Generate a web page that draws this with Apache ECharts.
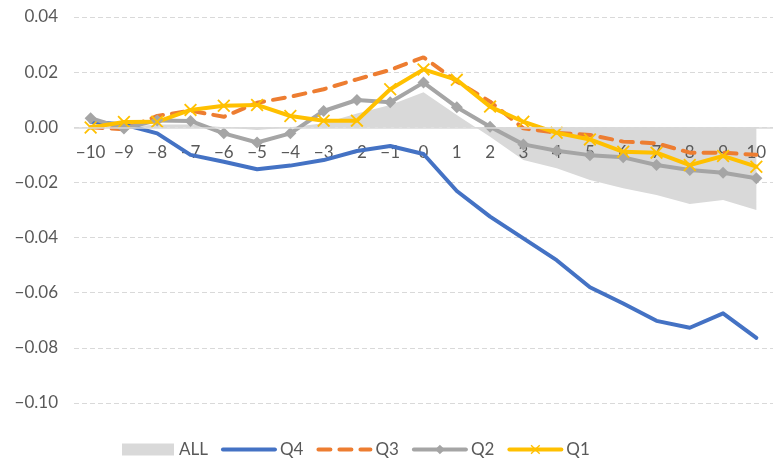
<!DOCTYPE html>
<html>
<head>
<meta charset="utf-8">
<script src="https://cdn.jsdelivr.net/npm/echarts@6/dist/echarts.min.js"></script>
<style>
  html, body { margin: 0; padding: 0; background: #fff; }
  #chart { width: 773px; height: 463px; }
</style>
</head>
<body>
<div id="chart"></div>
<script>
// event window, -10 .. 10
const categories = ["−10", "−9", "−8", "−7", "−6", "−5", "−4", "−3", "−2", "−1", "0",
  "1", "2", "3", "4", "5", "6", "7", "8", "9", "10"];

const allValues = [0.001, 0.000, 0.001, 0.001, 0.000, -0.001, 0.000, 0.0015, 0.005, 0.0081, 0.0127,
  0.0045, -0.0034, -0.0119, -0.0149, -0.0191, -0.0221, -0.0246, -0.0278, -0.0264, -0.030];
const q4Values = [0.002, 0.001, -0.0022, -0.010, -0.0125, -0.0152, -0.0139, -0.0119, -0.0086, -0.0068, -0.0097,
  -0.0231, -0.0324, -0.0403, -0.0482, -0.058, -0.0639, -0.0702, -0.0727, -0.0675, -0.0764];
const q3Values = [0.000, -0.0007, 0.0041, 0.006, 0.0038, 0.0089, 0.0111, 0.0138, 0.0174, 0.0208, 0.0254,
  0.0166, 0.0093, -0.0004, -0.002, -0.0028, -0.0052, -0.0058, -0.0092, -0.0092, -0.010];
const q2Values = [0.0033, -0.0004, 0.0025, 0.0023, -0.0022, -0.0055, -0.0022, 0.0059, 0.0099, 0.0091, 0.0162,
  0.0073, 0.0002, -0.0062, -0.0085, -0.0101, -0.0109, -0.0137, -0.0155, -0.0165, -0.0185];
const q1Values = [-0.0001, 0.0019, 0.002, 0.0063, 0.0078, 0.0081, 0.0041, 0.0024, 0.0024, 0.0138, 0.021,
  0.0172, 0.0075, 0.002, -0.002, -0.0044, -0.0089, -0.0092, -0.0137, -0.0104, -0.0143];

const Y_MIN = -0.10;
const Y_MAX = 0.04;

const FONT = "Lato";
const TEXT = "#595959";
const crossPath = "path://M0,1 L1,0 L5,4 L9,0 L10,1 L6,5 L10,9 L9,10 L5,6 L1,10 L0,9 L4,5 Z";

const GRID_TOP = 17;
const GRID_BOTTOM = 60;
const H = 463;
// category labels sit just under the zero line, like the Excel original
const plotH = H - GRID_TOP - GRID_BOTTOM;
const zeroOffset = -plotH * (0 - Y_MIN) / (Y_MAX - Y_MIN);

const chart = echarts.init(document.getElementById("chart"), null, { renderer: "canvas" });

function lineSeries(name, data, color, extra) {
  return Object.assign({
    name: name,
    type: "line",
    z: 4,
    data: data,
    color: color,
    symbol: "none",
    lineStyle: { width: 4, color: color, cap: "round", join: "round" },
  }, extra);
}

const noMark = { color: "rgba(0,0,0,0)", borderWidth: 0 };

chart.setOption({
  animation: false,
  textStyle: { fontFamily: FONT, color: TEXT },
  grid: { top: GRID_TOP, bottom: GRID_BOTTOM, left: 74, right: -4, containLabel: false },
  legend: {
    left: 122,
    top: 441,
    padding: 0,
    itemWidth: 52,
    itemHeight: 12,
    itemGap: 13,
    lineStyle: { width: 4, cap: "round" },
    textStyle: { fontSize: 17, color: TEXT, fontFamily: FONT },
    data: [
      { name: "ALL", icon: "rect", itemStyle: { color: "#D9D9D9" } },
      { name: "Q4", itemStyle: noMark },
      { name: "Q3", itemStyle: noMark },
      "Q2", "Q1",
    ],
  },
  xAxis: {
    type: "category",
    data: categories,
    boundaryGap: true,
    offset: zeroOffset,
    z: 2,
    axisLine: { show: false, onZero: false },
    axisTick: { show: false },
    axisLabel: { fontSize: 17, color: TEXT, margin: 17, interval: 0 },
    splitLine: { show: false },
  },
  yAxis: {
    type: "value",
    min: Y_MIN,
    max: Y_MAX,
    interval: 0.02,
    axisLine: { show: false },
    axisTick: { show: false },
    axisLabel: {
      fontSize: 17,
      color: TEXT,
      margin: 16,
      formatter: (v) => (v < -1e-9 ? "−" : "") + Math.abs(v).toFixed(2),
    },
    splitLine: { lineStyle: { color: "#D9D9D9", type: [5, 3], width: 1 } },
  },
  series: [
    {
      name: "ALL",
      type: "line",
      z: 1,
      data: allValues,
      color: "#D9D9D9",
      symbol: "none",
      lineStyle: { width: 0 },
      areaStyle: { color: "#D9D9D9", opacity: 1, origin: 0 },
      // horizontal axis line at zero
      markLine: {
        silent: true,
        symbol: "none",
        label: { show: false },
        lineStyle: { color: "#D9D9D9", type: "solid", width: 1.5 },
        data: [{ yAxis: 0 }],
      },
    },
    lineSeries("Q4", q4Values, "#4472C4"),
    lineSeries("Q3", q3Values, "#ED7D31", {
      lineStyle: { width: 4, color: "#ED7D31", type: [12, 9], cap: "round" },
    }),
    lineSeries("Q2", q2Values, "#A5A5A5", {
      symbol: "diamond",
      symbolSize: 12,
      showAllSymbol: true,
      itemStyle: { color: "#A5A5A5", borderWidth: 0 },
    }),
    lineSeries("Q1", q1Values, "#FFC000", {
      symbol: crossPath,
      symbolSize: 13,
      showAllSymbol: true,
      itemStyle: { color: "#FFC000", borderWidth: 0 },
    }),
  ],
});
</script>
</body>
</html>
